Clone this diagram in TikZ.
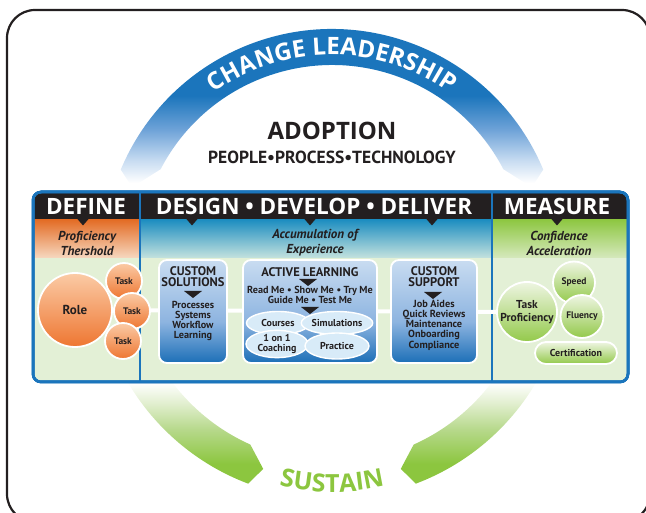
\documentclass[tikz,border=0pt]{standalone}
\usepackage{fontspec}
\setmainfont{Open Sans}
\newfontfamily\narrowfont{PT Sans}
\usetikzlibrary{shapes.geometric,decorations.text}
\pgfdeclarelayer{back}
\pgfdeclarelayer{mid}
\pgfsetlayers{back,mid,main}

\definecolor{ink}{HTML}{231F20}
\definecolor{clBlue}{HTML}{1B75BC}
\definecolor{clMid}{HTML}{6FA3D8}
\definecolor{clPale}{HTML}{C9DDF2}
\definecolor{suGreen}{HTML}{8CC63F}
\definecolor{suMid}{HTML}{B7D98C}
\definecolor{suPale}{HTML}{E2EFD0}
\definecolor{bodyGreen}{HTML}{E3F0D6}
\definecolor{defOrange}{HTML}{E36A22}
\definecolor{defPale}{HTML}{F6D8C0}
\definecolor{desTeal}{HTML}{1A8CC0}
\definecolor{desPale}{HTML}{C4E2DE}
\definecolor{meaGreen}{HTML}{8CC63F}
\definecolor{meaPale}{HTML}{D6E9BD}
\definecolor{boxLight}{HTML}{C9DCF1}
\definecolor{boxMid}{HTML}{8DB4E0}
\definecolor{boxDark}{HTML}{1C6FB7}
\definecolor{orLight}{HTML}{FBCBA6}
\definecolor{orDark}{HTML}{EE7631}
\definecolor{grLight}{HTML}{EEF5E2}
\definecolor{grDark}{HTML}{93C94A}
\definecolor{bubbleBlue}{HTML}{D8EBF8}

% fades for the two big arcs and the blue boxes
\pgfdeclareverticalshading{clfade}{100bp}{color(0bp)=(white); color(25bp)=(white); color(32bp)=(clPale); color(42bp)=(clMid); color(53bp)=(clBlue); color(100bp)=(clBlue)}
\pgfdeclareverticalshading{susfade}{100bp}{color(0bp)=(suGreen); color(33bp)=(suGreen); color(45bp)=(suMid); color(54bp)=(suPale); color(61bp)=(white); color(100bp)=(white)}
\pgfdeclareverticalshading{boxfade}{100bp}{color(0bp)=(boxDark); color(25bp)=(boxDark); color(45bp)=(boxMid); color(75bp)=(boxLight); color(100bp)=(boxLight)}

\newcommand{\headfont}{\fontsize{22.5}{24}\selectfont\bfseries}
% small black pointer under a heading
\newcommand{\notch}[2][6]{\fill[ink] (#2) +(-#1,0) -- +(#1,0) -- +(0,-7) -- cycle;}

\begin{document}
\begin{tikzpicture}[x=1pt, y=1pt, line join=round,
	colhead/.style={text=white, font=\headfont},
	subhead/.style={text=ink, align=center, font=\narrowfont\fontsize{13}{15}\selectfont\bfseries\itshape},
	roleball/.style={circle, draw=white, line width=1.8pt, top color=orLight, bottom color=orDark, text=ink, inner sep=0pt},
	greenball/.style={circle, draw=white, line width=1.8pt, top color=grLight, bottom color=grDark, text=ink, inner sep=0pt, align=center},
	bluebox/.style={rectangle, rounded corners=8pt, draw=white, line width=1.8pt, shading=boxfade},
	boxtitle/.style={text=ink, align=center, font=\narrowfont\fontsize{12.5}{11}\selectfont\bfseries},
	boxlist/.style={text=ink, align=center, font=\narrowfont\fontsize{10.2}{10}\selectfont\bfseries},
	bubble/.style={ellipse, draw=white, line width=1.4pt, fill=bubbleBlue, text=ink, inner sep=0pt, align=center, font=\narrowfont\fontsize{10}{10}\selectfont\bfseries}]
	\useasboundingbox (0,0) rectangle (646,512);
	\draw[ink, line width=2.2pt, rounded corners=28pt] (7,-10) rectangle (650,502);

	\begin{pgfonlayer}{back}
		% change leadership arc
		\begin{scope}[shift={(332,254)}]
			\clip (22.7:229) arc[start angle=22.7, end angle=157.3, radius=229] -- (160.5:212) -- (152.6:193)
				arc[start angle=152.6, end angle=27.4, radius=193] -- (19.5:212) -- cycle;
			\shade[shading=clfade] (-240,75) rectangle (240,231);
		\end{scope}
		% sustain arcs
		\begin{scope}[shift={(332,250)}]
			\clip (205:237) arc[start angle=205, end angle=249.3, radius=237] -- (251.6:218) -- (245.9:200)
				arc[start angle=245.9, end angle=205, radius=200] -- cycle
				(335:237) arc[start angle=335, end angle=290.7, radius=237] -- (288.4:218) -- (294.1:200)
				arc[start angle=294.1, end angle=335, radius=200] -- cycle;
			\shade[shading=susfade] (-240,-225) rectangle (240,-80);
		\end{scope}
		% panel
		\begin{scope}
			\clip[rounded corners=8pt] (33,130) rectangle (628,320);
			\fill[bodyGreen] (33,130) rectangle (628,320);
			\shade[top color=defOrange, bottom color=defPale] (33,254) rectangle (140,293);
			\shade[top color=desTeal, bottom color=desPale] (140,254) rectangle (492,293);
			\shade[top color=meaGreen, bottom color=meaPale] (492,254) rectangle (628,293);
			\fill[ink] (33,293) rectangle (628,320);
		\end{scope}
		\draw[clBlue, line width=2pt] (140,130) -- (140,320) (492,130) -- (492,320);
		\foreach \px in {83,192,310,432,557}
			\notch{\px,293.5}
		\draw[clBlue, line width=2.5pt, rounded corners=8pt] (33,130) rectangle (628,320);
	\end{pgfonlayer}

	% arc labels
	\begin{scope}[shift={(332,254)}]
		\path[decorate, decoration={text along path, text align=center,
			text={|\fontsize{24}{24}\selectfont\bfseries\color{white}|CHANGE LEADERSHIP}}]
			(165:203) arc[start angle=165, end angle=15, radius=203];
	\end{scope}
	\begin{scope}[shift={(332,250)}]
		\path[decorate, decoration={text along path, text align=center,
			text={|\fontsize{25}{25}\selectfont\bfseries\color{suGreen}|SUSTAIN}}]
			(250:230) arc[start angle=250, end angle=290, radius=230];
	\end{scope}

	\node[text=ink, font=\fontsize{24}{28}\selectfont\bfseries] (adoption) at (332,381) {ADOPTION};
	\node[text=ink, font=\narrowfont\fontsize{17.5}{18}\selectfont\bfseries] (ppt) at (332,355) {PEOPLE•PROCESS•TECHNOLOGY};

	% column heads
	\node[colhead] (definehead) at (86,306) {DEFINE};
	\node[colhead] (dddhead) at (314,306) {DESIGN • DEVELOP • DELIVER};
	\node[colhead] (measurehead) at (557,306) {MEASURE};
	\node[subhead] (threshold) at (87,269) {Proficiency\\Thershold};
	\node[subhead] (accum) at (315,269) {Accumulation of\\Experience};
	\node[subhead] (confid) at (559,269) {Confidence\\Acceleration};

	% define
	\node[roleball, minimum size=74pt, font=\narrowfont\fontsize{13}{13}\selectfont\bfseries] (role) at (75,202) {Role};
	\node[roleball, minimum size=36pt, font=\narrowfont\fontsize{9.5}{10}\selectfont\bfseries] (taskA) at (124,231) {Task};
	\node[roleball, minimum size=36pt, font=\narrowfont\fontsize{9.5}{10}\selectfont\bfseries] (taskB) at (132,201) {Task};
	\node[roleball, minimum size=36pt, font=\narrowfont\fontsize{9.5}{10}\selectfont\bfseries] (taskC) at (123,171) {Task};

	% design / develop / deliver
	\node[bluebox, minimum width=68pt, minimum height=103pt] (solutions) at (193,200.5) {};
	\node[boxtitle] (solhead) at (193,235) {CUSTOM\\SOLUTIONS};
	\notch[9]{193,221}
	\node[boxlist] (sollist) at (193,191) {Processes\\Systems\\Workflow\\Learning};

	\node[bluebox, minimum width=134pt, minimum height=103pt] (active) at (310,200.5) {};
	\node[boxtitle] (acthead) at (310,240) {ACTIVE LEARNING};
	\notch[9]{308,233}
	\node[boxlist] (modes) at (310,217.5) {Read Me • Show Me • Try Me\\Guide Me • Test Me};
	\notch[9]{310,205}
	\node[bubble, minimum width=63pt, minimum height=23pt] (courses) at (278,189) {Courses};
	\node[bubble, minimum width=65pt, minimum height=23pt] (sims) at (337,189) {Simulations};
	\node[bubble, minimum width=62pt, minimum height=27pt] (coaching) at (277,168) {1 on 1\\Coaching};
	\node[bubble, minimum width=64pt, minimum height=26pt] (practice) at (337,166) {Practice};

	\node[bluebox, minimum width=86pt, minimum height=103pt] (support) at (434,200.5) {};
	\node[boxtitle] (suphead) at (434,235.5) {CUSTOM\\SUPPORT};
	\notch[9]{433,220}
	\node[boxlist, font=\narrowfont\fontsize{10.3}{10.3}\selectfont\bfseries] (suplist) at (434,187) {Job Aides\\Quick Reviews\\Maintenance\\Onboarding\\Compliance};

	% measure
	\node[greenball, rectangle, rounded corners=11pt, minimum width=82pt, minimum height=22pt, font=\narrowfont\fontsize{10}{10}\selectfont\bfseries] (cert) at (576,159) {Certification};
	\node[greenball, minimum size=42pt, font=\narrowfont\fontsize{9.5}{10}\selectfont\bfseries] (speed) at (574,229.5) {Speed};
	\node[greenball, minimum size=43pt, font=\narrowfont\fontsize{9.5}{10}\selectfont\bfseries] (fluency) at (582,195.5) {Fluency};
	\node[greenball, minimum size=60pt, font=\narrowfont\fontsize{11.5}{13}\selectfont\bfseries] (taskprof) at (527,200) {Task\\Proficiency};

	\begin{pgfonlayer}{mid}
		\draw[white, line width=4pt] (role) -- (taskprof);
	\end{pgfonlayer}
\end{tikzpicture}
\end{document}
